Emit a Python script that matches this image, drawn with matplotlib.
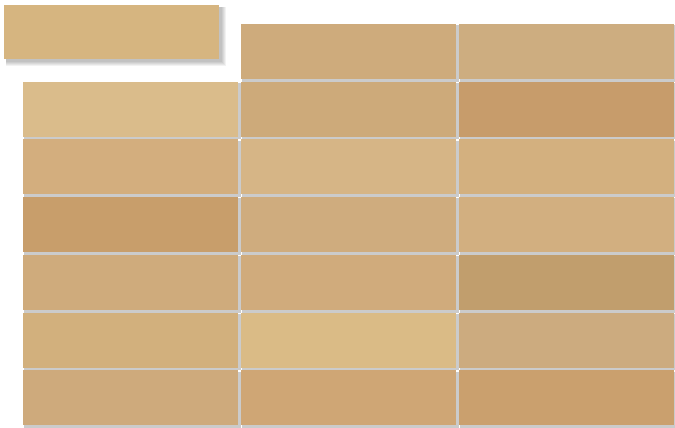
import matplotlib
matplotlib.use("Agg")
import matplotlib.pyplot as plt
from matplotlib.patches import Rectangle

# tile grid: row, column, colour (cell 0,0 is the lifted tile)
rows = [0, 0,
        1, 1, 1,
        2, 2, 2,
        3, 3, 3,
        4, 4, 4,
        5, 5, 5,
        6, 6, 6]
cols = [1, 2,
        0, 1, 2,
        0, 1, 2,
        0, 1, 2,
        0, 1, 2,
        0, 1, 2,
        0, 1, 2]
colors = ["#CEAB7C", "#CDAD80",
          "#DABC8B", "#CDAA7A", "#C79C6B",
          "#D3AE7E", "#D6B586", "#D3B07F",
          "#C89E6B", "#CFAC7E", "#D2AF80",
          "#CFAB7C", "#D0AB7C", "#C19E6D",
          "#D2B07D", "#DABB86", "#CCAB7F",
          "#CEAA7C", "#CFA675", "#CAA06E"]

lifted_row, lifted_col = 0, 0
lifted_color = "#D6B580"

W, H = 675, 428
cell_w, cell_h = 218, 57.7
left, top = 23, 24

fig = plt.figure(figsize=(W / 100, H / 100), dpi=100)
ax = fig.add_axes([0, 0, 1, 1])
ax.set_xlim(-left / cell_w, (W - left) / cell_w)
ax.set_ylim((H - top) / cell_h, -top / cell_h)
ax.axis("off")

gx = 2.6 / cell_w   # gap between tiles
gy = 2.6 / cell_h

for r, c, col in zip(rows, cols, colors):
    # grey shadow line under / right of each tile
    ax.add_patch(Rectangle((c + gx * 0.5, r + gy * 0.5), 1 - gx * 0.5, 1 - gy * 0.5,
                           facecolor="#cbcbcb", edgecolor="none", zorder=1))
    ax.add_patch(Rectangle((c, r), 1 - gx, 1 - gy,
                           facecolor=col, edgecolor="none", zorder=2))

# lifted tile with soft drop shadow
dx, dy = -19 / cell_w, -19 / cell_h
lw, lh = 215 / cell_w, 54 / cell_h
x0, y0 = lifted_col + dx, lifted_row + dy
for k in range(1, 6):
    ax.add_patch(Rectangle((x0 + 1.5 / cell_w, y0 + 1.5 / cell_h),
                           lw + k / cell_w, lh + k / cell_h,
                           facecolor="black", alpha=0.05,
                           edgecolor="none", zorder=3))
ax.add_patch(Rectangle((x0, y0), lw, lh, facecolor=lifted_color,
                       edgecolor="none", zorder=4))

fig.savefig("out.png", dpi=100, facecolor="white")
